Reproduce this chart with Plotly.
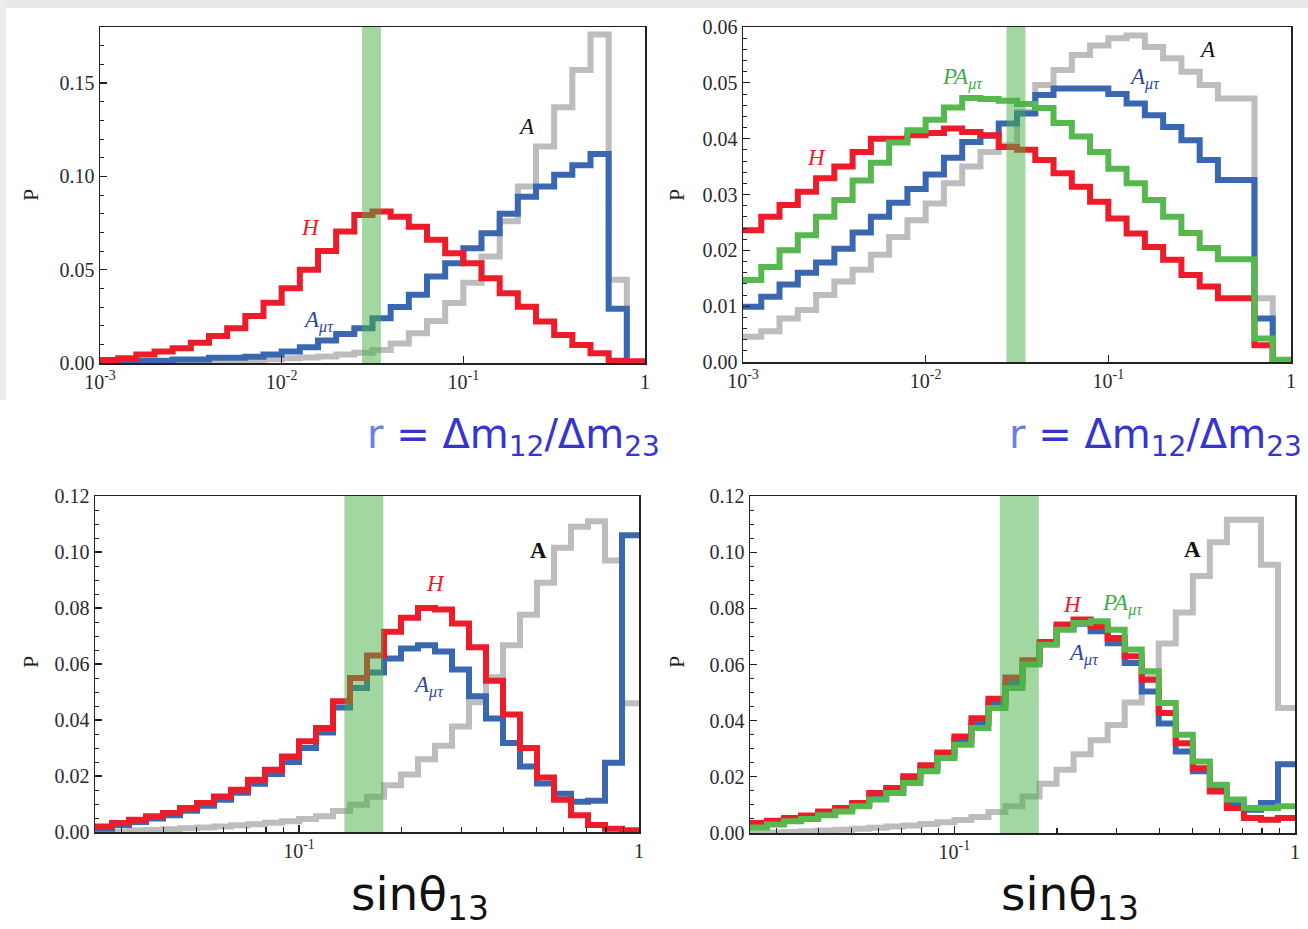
import numpy as np
import plotly.graph_objects as go

# ---------------- data ----------------
# bin edges (log-uniform histogram bins)
r_edges = np.logspace(-3, 0, 31)      # r = dm12/dm23, 30 bins of 0.1 decade
s_edges = np.logspace(-1.6, 0, 33)    # sin(theta13), 32 bins of 0.05 decade

# top-left panel (r)
p1_A = [0.0002, 0.0003, 0.0004, 0.0005, 0.0006, 0.0008, 0.001, 0.0012, 0.0015, 0.002, 0.0025, 0.003, 0.0035, 0.0045, 0.0055,
        0.007, 0.0105, 0.016, 0.0225, 0.0322, 0.043, 0.057, 0.076, 0.0945, 0.116, 0.137, 0.157, 0.176, 0.0446, 0.0]
p1_Amt = [0.0005, 0.0005, 0.0012, 0.0012, 0.0019, 0.0019, 0.0028, 0.0028, 0.0034, 0.0046, 0.0061, 0.0084, 0.012, 0.0156, 0.0186,
          0.024, 0.030, 0.0365, 0.0463, 0.0534, 0.0615, 0.0695, 0.080, 0.089, 0.0945, 0.1008, 0.106, 0.112, 0.029, 0.0]
p1_H = [0.0016, 0.0025, 0.0046, 0.0061, 0.0079, 0.0109, 0.0145, 0.0186, 0.0252, 0.0323, 0.040, 0.050, 0.060, 0.0704, 0.0793,
        0.0811, 0.0784, 0.073, 0.066, 0.0588, 0.0534, 0.0454, 0.0373, 0.0302, 0.0222, 0.015, 0.0096, 0.0052, 0.0012, 0.001]

# top-right panel (r)
p2_A = [0.0045, 0.0055, 0.0078, 0.0093, 0.012, 0.0144, 0.0165, 0.0192, 0.0224, 0.0254, 0.0284, 0.032, 0.035, 0.0376, 0.0388,
        0.0448, 0.0496, 0.0523, 0.055, 0.0567, 0.058, 0.0585, 0.0564, 0.0544, 0.052, 0.0496, 0.0472, 0.0472, 0.0114, 0.0]
p2_Amt = [0.0099, 0.0117, 0.0139, 0.016, 0.0178, 0.0203, 0.0232, 0.026, 0.0285, 0.031, 0.0336, 0.0366, 0.0394, 0.0405, 0.0427,
          0.0445, 0.0478, 0.049, 0.049, 0.049, 0.048, 0.0463, 0.0442, 0.0421, 0.0397, 0.0362, 0.0326, 0.0326, 0.0078, 0.0]
p2_H = [0.0236, 0.026, 0.0281, 0.0305, 0.0329, 0.035, 0.0376, 0.040, 0.040, 0.0406, 0.041, 0.0418, 0.0412, 0.0406, 0.0385,
        0.038, 0.0362, 0.0338, 0.0314, 0.0287, 0.0257, 0.023, 0.0206, 0.0183, 0.0156, 0.0135, 0.0114, 0.0114, 0.003, 0.0]
p2_PA = [0.0147, 0.017, 0.020, 0.0227, 0.026, 0.029, 0.0325, 0.0357, 0.0393, 0.0415, 0.0434, 0.0456, 0.0473, 0.0471, 0.0468,
         0.0462, 0.0455, 0.0428, 0.0404, 0.0376, 0.0346, 0.032, 0.029, 0.026, 0.0231, 0.0204, 0.0184, 0.0184, 0.0042, 0.0004]

# bottom-left panel (sin theta13)
p3_A = [0.0, 0.0002, 0.0005, 0.0007, 0.001, 0.0013, 0.0016, 0.002, 0.0024, 0.0028, 0.0033, 0.0038, 0.0046, 0.0056, 0.0075, 0.0097,
        0.0126, 0.0167, 0.0205, 0.026, 0.0308, 0.0377, 0.0463, 0.0553, 0.0667, 0.0776, 0.089, 0.1015, 0.109, 0.111, 0.097, 0.046]
p3_Amt = [0.0012, 0.0025, 0.0036, 0.0048, 0.006, 0.0076, 0.0094, 0.0115, 0.014, 0.0172, 0.0207, 0.025, 0.030, 0.0355, 0.0445, 0.0514,
          0.057, 0.062, 0.0655, 0.0667, 0.0645, 0.058, 0.0485, 0.0405, 0.0318, 0.0234, 0.0173, 0.0137, 0.0108, 0.0112, 0.0247, 0.106]
p3_H = [0.002, 0.0032, 0.0044, 0.0056, 0.0068, 0.0086, 0.0104, 0.0127, 0.0151, 0.0187, 0.0222, 0.027, 0.0324, 0.0371, 0.0467, 0.055,
        0.063, 0.0715, 0.0765, 0.080, 0.0795, 0.0745, 0.066, 0.054, 0.042, 0.030, 0.0195, 0.0115, 0.006, 0.0025, 0.0012, 0.0006]

# bottom-right panel (sin theta13)
p4_A = [0.0, 0.0002, 0.0004, 0.0006, 0.0009, 0.0012, 0.0015, 0.0019, 0.0023, 0.0027, 0.0032, 0.0038, 0.0046, 0.0057, 0.0075, 0.0095,
        0.013, 0.0175, 0.0225, 0.028, 0.033, 0.0385, 0.0465, 0.0555, 0.0675, 0.0785, 0.0915, 0.1035, 0.1115, 0.1115, 0.0955, 0.0445]
p4_Amt = [0.0028, 0.0037, 0.0047, 0.0056, 0.007, 0.0083, 0.0101, 0.0131, 0.0151, 0.019, 0.023, 0.0277, 0.033, 0.0392, 0.046, 0.0535,
          0.061, 0.0675, 0.073, 0.0745, 0.0718, 0.0676, 0.0605, 0.0504, 0.039, 0.029, 0.022, 0.0154, 0.010, 0.0083, 0.0107, 0.0245]
p4_H = [0.0036, 0.0044, 0.0053, 0.0062, 0.0077, 0.0089, 0.0107, 0.0142, 0.016, 0.0202, 0.0241, 0.0287, 0.0344, 0.0409, 0.0478, 0.0554,
        0.0615, 0.068, 0.0742, 0.076, 0.0736, 0.0694, 0.0629, 0.0546, 0.0427, 0.032, 0.0231, 0.0148, 0.0089, 0.0053, 0.0047, 0.0053]
p4_PA = [0.002, 0.003, 0.0042, 0.005, 0.0063, 0.0077, 0.0095, 0.0119, 0.0142, 0.0178, 0.022, 0.0267, 0.0314, 0.0374, 0.0445, 0.0516,
         0.060, 0.067, 0.0724, 0.0748, 0.0754, 0.0724, 0.0653, 0.0576, 0.0463, 0.035, 0.0255, 0.0172, 0.0119, 0.0089, 0.0089, 0.0095]

# measured bands (green)
band_r = [0.0277, 0.0352]
band_s = [0.136, 0.177]

r_ticks = [0.001, 0.01, 0.1, 1]
r_ticktext = ["10<sup>-3</sup>", "10<sup>-2</sup>", "10<sup>-1</sup>", "1"]
s_ticks = [0.1, 1]
s_ticktext = ["10<sup>-1</sup>", "1"]
s_minor = [0.03, 0.04, 0.05, 0.06, 0.07, 0.08, 0.09, 0.2, 0.3, 0.4, 0.5, 0.6, 0.7, 0.8, 0.9]

# ---------------- style ----------------
C_A = "#bdbdbd"
C_AMT = "#3a68b0"
C_H = "#ec1c2a"
C_PA = "#56b84e"
LW = 6
W, H = 1308, 929

panels = [
    dict(ax="", xd=(100, 645), yd=(27, 363), edges=r_edges,
         series=[(p1_A, C_A), (p1_Amt, C_AMT), (p1_H, C_H)],
         yr=[0, 0.18], ydt=0.05, ymin=0.01, band=band_r,
         xt=r_ticks, xtt=r_ticktext, xminor=None, xr=[-3, 0]),
    dict(ax="2", xd=(743, 1291), yd=(27, 362), edges=r_edges,
         series=[(p2_A, C_A), (p2_Amt, C_AMT), (p2_H, C_H), (p2_PA, C_PA)],
         yr=[0, 0.06], ydt=0.01, ymin=0.002, band=band_r,
         xt=r_ticks, xtt=r_ticktext, xminor=None, xr=[-3, 0]),
    dict(ax="3", xd=(95, 639), yd=(496, 832), edges=s_edges,
         series=[(p3_A, C_A), (p3_Amt, C_AMT), (p3_H, C_H)],
         yr=[0, 0.12], ydt=0.02, ymin=0.005, band=band_s,
         xt=s_ticks, xtt=s_ticktext, xminor=s_minor, xr=[-1.6, 0]),
    dict(ax="4", xd=(750, 1295), yd=(496, 833), edges=s_edges,
         series=[(p4_A, C_A), (p4_Amt, C_AMT), (p4_H, C_H), (p4_PA, C_PA)],
         yr=[0, 0.12], ydt=0.02, ymin=0.005, band=band_s,
         xt=s_ticks, xtt=s_ticktext, xminor=s_minor, xr=[-1.6, 0]),
]

fig = go.Figure()
serif = "Liberation Serif, Times New Roman, serif"
tickfont = dict(family=serif, size=20, color="#2a2a2a")
layout = {}
shapes = []

for p in panels:
    xa = "x" + p["ax"]
    ya = "y" + p["ax"]
    edges = list(p["edges"])
    for vals, col in p["series"]:
        fig.add_trace(go.Scatter(
            x=edges, y=list(vals) + [vals[-1]], mode="lines",
            line=dict(color=col, width=LW, shape="hv"),
            xaxis=xa, yaxis=ya, showlegend=False, hoverinfo="skip"))
    x0, x1 = p["xd"]
    yt, yb = p["yd"]
    xdict = dict(domain=[x0 / W, x1 / W], type="log", range=p["xr"], anchor=ya, automargin=False,
                 showline=True, linecolor="#222", linewidth=1.5, mirror=True,
                 showgrid=False, zeroline=False, ticks="inside", ticklen=7, tickwidth=1.2,
                 tickcolor="#222", tickvals=p["xt"], ticktext=p["xtt"], tickfont=tickfont)
    if p["xminor"]:
        xdict["minor"] = dict(tickvals=p["xminor"], ticks="inside", ticklen=5, tickwidth=1.2,
                              tickcolor="#222", showgrid=False)
    ydict = dict(domain=[1 - yb / H, 1 - yt / H], range=p["yr"], anchor=xa, automargin=False,
                 showline=True, linecolor="#222", linewidth=1.5, mirror=True,
                 showgrid=False, zeroline=False, ticks="inside", ticklen=7, tickwidth=1.2,
                 tickcolor="#222", dtick=p["ydt"], tick0=0, tickformat=".2f", tickfont=tickfont,
                 minor=dict(dtick=p["ymin"], tick0=0, ticks="inside", ticklen=4, tickwidth=1,
                            tickcolor="#222", showgrid=False))
    layout["xaxis" + p["ax"]] = xdict
    layout["yaxis" + p["ax"]] = ydict
    shapes.append(dict(type="rect", xref=xa, yref=ya + " domain",
                       x0=p["band"][0], x1=p["band"][1], y0=0, y1=1,
                       fillcolor="rgba(70,175,70,0.5)", line=dict(width=0), layer="above"))

# light grey frame strips of the slide
shapes.append(dict(type="rect", xref="paper", yref="paper", x0=0, x1=1, y0=1 - 8 / H, y1=1,
                   fillcolor="#e9e9e9", line=dict(width=0), layer="below"))
shapes.append(dict(type="rect", xref="paper", yref="paper", x0=0, x1=6 / W, y0=1 - 400 / H, y1=1,
                   fillcolor="#ececec", line=dict(width=0), layer="below"))

ann = []


def lab(text, ax, x, y, color, size=23, bold=False):
    t = "<b>" + text + "</b>" if bold else "<i>" + text + "</i>"
    ann.append(dict(text=t, xref="x" + ax, yref="y" + ax, x=x, y=y, showarrow=False,
                    font=dict(family=serif, size=size, color=color), xanchor="center", yanchor="middle"))


# series labels (x in log10 units)
lab("H", "", -1.844, 0.0724, C_H)
lab("A", "", -0.65, 0.1265, "#111")
lab("A<sub>μτ</sub>", "", -1.80, 0.022, "#3344a0")
lab("PA<sub>μτ</sub>", "2", -1.80, 0.0508, "#3aae48")
lab("A<sub>μτ</sub>", "2", -0.80, 0.0508, "#3344a0")
lab("A", "2", -0.455, 0.0559, "#111")
lab("H", "2", -2.595, 0.0367, C_H)
lab("A", "3", -0.296, 0.1007, "#111", bold=True)
lab("H", "3", -0.599, 0.0889, C_H)
lab("A<sub>μτ</sub>", "3", -0.620, 0.052, "#3344a0")
lab("A", "4", -0.30, 0.101, "#111", bold=True)
lab("H", "4", -0.652, 0.0812, C_H)
lab("PA<sub>μτ</sub>", "4", -0.505, 0.0812, "#3aae48")
lab("A<sub>μτ</sub>", "4", -0.62, 0.0634, "#3344a0")

# y titles "P"
for yc in (195, 662):
    for xc in (30, 676):
        ann.append(dict(text="P", xref="paper", yref="paper", x=xc / W, y=1 - yc / H, showarrow=False,
                        textangle=-90, font=dict(family=serif, size=22, color="#222"),
                        xanchor="center", yanchor="middle"))

# axis captions
rtxt = '<span style="color:#6b7fe8">r</span> = Δm<sub>12</sub>/Δm<sub>23</sub>'
for xc in (513, 1155):
    ann.append(dict(text=rtxt, xref="paper", yref="paper", x=xc / W, y=1 - 437 / H, showarrow=False,
                    font=dict(family="DejaVu Sans, sans-serif", size=40, color="#3535d0"),
                    xanchor="center", yanchor="middle"))
for xc in (420, 1070):
    ann.append(dict(text="sinθ<sub>13</sub>", xref="paper", yref="paper", x=xc / W, y=1 - 897 / H,
                    showarrow=False, font=dict(family="DejaVu Sans, sans-serif", size=47, color="#111"),
                    xanchor="center", yanchor="middle"))

fig.update_layout(width=W, height=H, autosize=False, margin=dict(l=0, r=0, t=0, b=0, pad=0),
                  paper_bgcolor="white", plot_bgcolor="white", shapes=shapes, annotations=ann,
                  hovermode=False, **layout)

fig.write_html("out.html", config={"displayModeBar": False, "staticPlot": True},
               post_script="document.body.style.margin='0px';document.body.style.overflow='hidden';")
